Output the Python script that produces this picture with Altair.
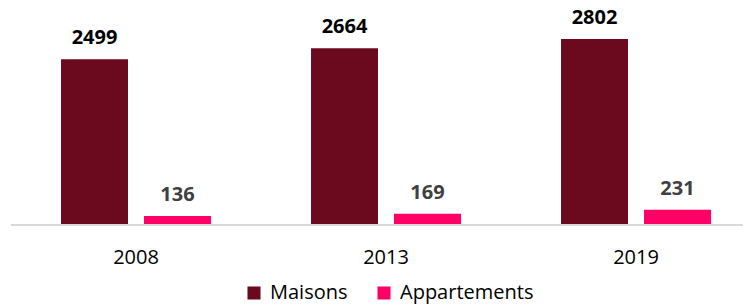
import altair as alt
import pandas as pd

years = ["2008", "2013", "2019"]
maisons = [2499, 2664, 2802]
appartements = [136, 169, 231]
series = ["Maisons", "Appartements"]
colors = ["#6B0A1E", "#FF0066"]

rows = []
for i, y in enumerate(years):
    rows.append({"year": y, "series": "Maisons", "value": maisons[i]})
    rows.append({"year": y, "series": "Appartements", "value": appartements[i]})
df = pd.DataFrame(rows)

FONT = "Open Sans"
YMAX = 3270

x_enc = alt.X("year:N", sort=years, scale=alt.Scale(paddingInner=0.144, paddingOuter=0),
              axis=alt.Axis(title=None, domain=False, ticks=False, labelFontSize=20, labelFont=FONT,
                            labelColor="#000000", labelPadding=22, labelAngle=0))
xo_enc = alt.XOffset("series:N", sort=series, scale=alt.Scale(paddingInner=0.193, paddingOuter=0.386))
y_enc = alt.Y("value:Q", scale=alt.Scale(domain=[0, YMAX], nice=False), axis=None)

base = alt.Chart(df)

bars = base.mark_bar().encode(
    x=x_enc, xOffset=xo_enc, y=y_enc,
    color=alt.Color("series:N", sort=series, scale=alt.Scale(domain=series, range=colors), title=None,
                    legend=alt.Legend(orient="none", legendX=215, legendY=275, direction="horizontal",
                                      symbolType="square", symbolSize=170, symbolStrokeWidth=0,
                                      labelFontSize=20, labelFont=FONT, labelColor="#000000",
                                      labelOffset=6, columnPadding=26)),
)

labels = base.mark_text(dy=-15, baseline="alphabetic", fontSize=20, font=FONT, fontWeight="bold").encode(
    x=x_enc, xOffset=xo_enc, y=y_enc,
    text=alt.Text("value:Q"),
    color=alt.condition(alt.datum.series == "Maisons", alt.value("#000000"), alt.value("#404040")),
)

baseline = alt.Chart(pd.DataFrame({"v": [0]})).mark_rule(color="#D9D9D9", strokeWidth=2).encode(
    y=alt.Y("v:Q", scale=alt.Scale(domain=[0, YMAX], nice=False), axis=None),
    x=alt.value(-18), x2=alt.value(714),
)

chart = alt.layer(bars, labels, baseline).properties(
    width=714, height=217,
    padding={"left": 21, "top": 0, "right": 0, "bottom": 80},
    autosize=alt.AutoSizeParams(type="none"),
).configure_view(stroke=None)

chart.save("out.html", embed_options={"renderer": "svg", "actions": False})
